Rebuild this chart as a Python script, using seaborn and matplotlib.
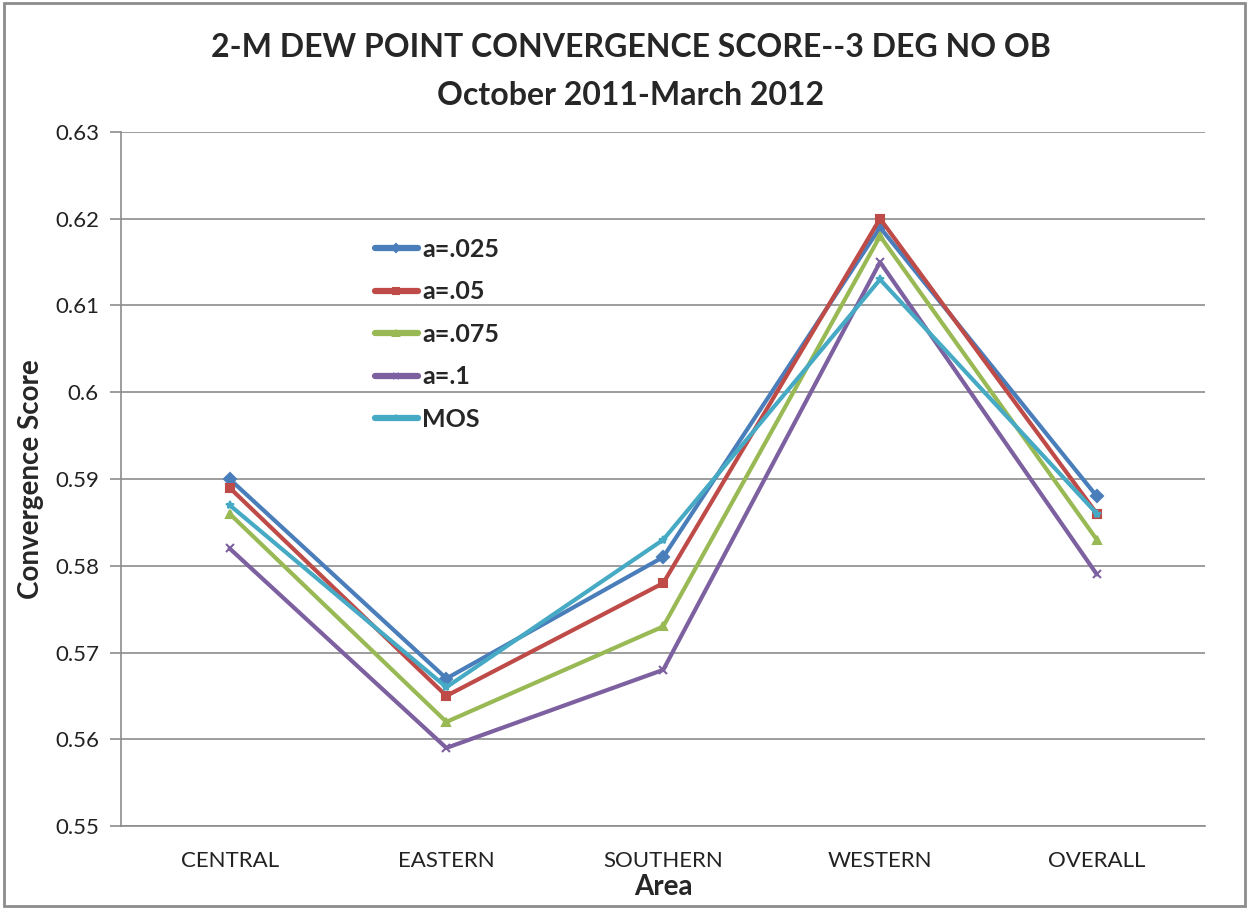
#!/usr/bin/env python3

import matplotlib
matplotlib.use('Agg')
import matplotlib.pyplot as plt
import seaborn as sns
import numpy as np
import pandas as pd

#-----------
# DATA
#-----------
areas = ['CENTRAL', 'EASTERN', 'SOUTHERN', 'WESTERN', 'OVERALL']
series_names = ['a=.025', 'a=.05', 'a=.075', 'a=.1', 'MOS']

a_025 = [0.590, 0.567, 0.581, 0.619, 0.588]
a_05 = [0.589, 0.565, 0.578, 0.620, 0.586]
a_075 = [0.586, 0.562, 0.573, 0.618, 0.583]
a_1 = [0.582, 0.559, 0.568, 0.615, 0.579]
mos = [0.587, 0.566, 0.583, 0.613, 0.586]

y_ticks = [0.55, 0.56, 0.57, 0.58, 0.59, 0.6, 0.61, 0.62, 0.63]
y_tick_labels = ['0.55', '0.56', '0.57', '0.58', '0.59', '0.6', '0.61', '0.62', '0.63']

#-----------
# STYLE
#-----------
colors = {
  'a=.025': '#4a7ebb',
  'a=.05': '#be4b48',
  'a=.075': '#98b954',
  'a=.1': '#7d60a0',
  'MOS': '#46aac5',
}
markers = {
  'a=.025': 'D',
  'a=.05': 's',
  'a=.075': '^',
  'a=.1': 'x',
  'MOS': '*',
}

sns.set_theme(style='white')
plt.rcParams['font.family'] = ['Lato', 'DejaVu Sans']

# long format for seaborn
rows = []
for name, vals in zip(series_names, [a_025, a_05, a_075, a_1, mos]):
  for i, v in enumerate(vals):
    rows.append({'series': name, 'area': i, 'score': v})
df = pd.DataFrame(rows)

fig = plt.figure(figsize=(12.49, 9.09), dpi=100)
ax = fig.add_axes([0.097, 0.0913, 0.868, 0.7635])

for name in series_names:
  sub = df[df['series'] == name]
  sns.lineplot(data=sub, x='area', y='score', color=colors[name],
    marker=markers[name], markersize=6, markeredgewidth=1.5,
    markeredgecolor=colors[name], linewidth=3.0, label=name, ax=ax)

ax.set_xlim(-0.5, 4.5)
ax.set_ylim(0.55, 0.63)
ax.set_xticks(range(len(areas)))
ax.set_xticklabels(areas, fontsize=16, color='#222222')
ax.set_yticks(y_ticks)
ax.set_yticklabels(y_tick_labels, fontsize=16, color='#222222')
ax.tick_params(axis='y', length=8, width=1.2, color='#8c8c8c', direction='out', pad=8, left=True)
ax.tick_params(axis='x', length=0, pad=18)

ax.grid(axis='y', color='#8c8c8c', linewidth=1.2)
ax.set_axisbelow(True)
for s in ['top', 'right']:
  ax.spines[s].set_visible(False)
for s in ['left', 'bottom']:
  ax.spines[s].set_color('#8c8c8c')
  ax.spines[s].set_linewidth(1.2)

ax.set_xlabel('Area', fontsize=20, fontweight='bold', labelpad=2)
ax.set_ylabel('Convergence Score', fontsize=20, fontweight='bold', labelpad=8)

leg = ax.legend(loc='upper left', bbox_to_anchor=(0.213, 0.88), frameon=False,
  fontsize=18, handlelength=1.75, handletextpad=0.15, labelspacing=0.78)
for t in leg.get_texts():
  t.set_fontweight('bold')
for h in leg.legend_handles:
  h.set_linewidth(4.5)
  h.set_markersize(4)

fig.text(0.505, 0.948, '2-M DEW POINT CONVERGENCE SCORE--3 DEG NO OB',
  ha='center', va='center', fontsize=23, fontweight='bold')
fig.text(0.505, 0.895, 'October 2011-March 2012',
  ha='center', va='center', fontsize=23, fontweight='bold')

# outer border like the original chart area
fig.patches.append(plt.Rectangle((0.003, 0.003), 0.994, 0.994, transform=fig.transFigure,
  fill=False, edgecolor='#8c8c8c', linewidth=2))

fig.savefig('out.png', dpi=100)
